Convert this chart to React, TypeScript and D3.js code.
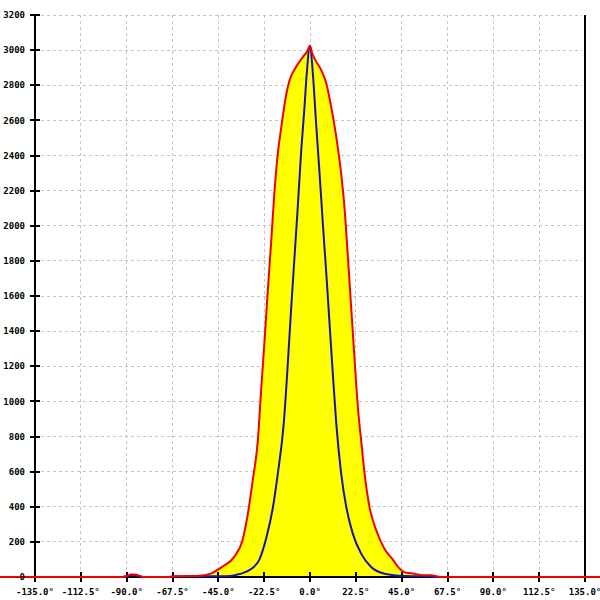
import React from "react";
import * as d3 from "d3";

const xTicks = [-135, -112.5, -90, -67.5, -45, -22.5, 0, 22.5, 45, 67.5, 90, 112.5, 135];
const yTicks = [0, 200, 400, 600, 800, 1000, 1200, 1400, 1600, 1800, 2000, 2200, 2400, 2600, 2800, 3000, 3200];

const redAngles = [-155, -92, -90, -88, -86, -84, -82, -70, -66, -60, -54, -48.4, -43, -37.1, -33.1, -30.5, -28.1, -25.6, -24, -22.3, -20.7, -19, -17.4, -15.8, -14.1, -12.5, -10.9, -9.2, -7.6, -3.5, -1.5, 0, 1, 2.2, 5.5, 8, 10.4, 12.9, 15.3, 16.9, 18.6, 20.2, 21.8, 23.5, 25.1, 26.8, 29.2, 32.5, 36.6, 40.6, 43, 44.8, 47, 51.3, 55, 59.5, 62, 65, 155];
const redValues = [0, 0, 6, 14, 14, 8, 0, 0, 4, 5, 7, 21, 59, 116, 211, 361, 551, 778, 1063, 1348, 1633, 1918, 2203, 2411, 2560, 2690, 2790, 2855, 2890, 2962, 2990, 3025, 2985, 2953, 2886, 2810, 2677, 2506, 2297, 2108, 1823, 1538, 1253, 968, 778, 589, 399, 266, 160, 100, 60, 38, 25, 19, 10, 10, 5, 0, 0];

const blueAngles = [-155, -92, -90, -88, -86, -84, -82, -70, -66, -55, -48, -41, -34.6, -28.9, -24.8, -21.5, -18.3, -15.8, -12.9, -11.2, -9.2, -7.6, -6, -4.3, -2.7, -1.6, 0, 1.4, 3, 4.7, 6.3, 8, 9.6, 11.2, 12.9, 15.3, 17.8, 21, 25.1, 30, 36.6, 46.4, 55, 62, 155];
const blueValues = [0, 0, 4, 10, 10, 5, 0, 0, 3, 4, 4, 4, 17, 45, 100, 220, 390, 589, 873, 1158, 1538, 1823, 2108, 2430, 2677, 2867, 3025, 2867, 2582, 2297, 2013, 1728, 1443, 1158, 873, 589, 399, 247, 133, 57, 19, 6, 4, 0, 0];

const W = 600;
const H = 600;

export default function App() {
  const x = d3.scaleLinear().domain([-135, 135]).range([35, 585]);
  const y = d3.scaleLinear().domain([0, 3200]).range([577, 15]);

  const red: [number, number][] = redAngles.map((a, i) => [a, redValues[i]]);
  const blue: [number, number][] = blueAngles.map((a, i) => [a, blueValues[i]]);

  const line = d3
    .line<[number, number]>()
    .x((d) => x(d[0]))
    .y((d) => y(d[1]))
    .curve(d3.curveMonotoneX);
  const area = d3
    .area<[number, number]>()
    .x((d) => x(d[0]))
    .y0(y(0))
    .y1((d) => y(d[1]))
    .curve(d3.curveMonotoneX);

  const font = "'DejaVu Sans Mono', monospace";

  return (
    <svg
      width={W}
      height={H}
      style={{ position: "absolute", left: 0, top: 0, background: "#fff" }}
    >
      {/* grid */}
      <g stroke="#c4c4c4" strokeWidth={1} strokeDasharray="3,3" shapeRendering="crispEdges">
        {yTicks.map((t) => (
          <line key={"gy" + t} x1={x(-135)} x2={x(135) - 3} y1={y(t)} y2={y(t)} />
        ))}
        {xTicks.map((t) => (
          <line key={"gx" + t} x1={x(t)} x2={x(t)} y1={y(3200)} y2={y(0)} />
        ))}
      </g>
      {/* filled area under red */}
      <path d={area(red) || ""} fill="#ffff00" stroke="none" />
      {/* axes */}
      <g stroke="#000" strokeWidth={2} shapeRendering="crispEdges">
        <line x1={x(-135)} x2={x(-135)} y1={y(3200)} y2={y(0) + 5} />
        <line x1={x(135)} x2={x(135)} y1={y(3200)} y2={y(0) + 5} />
        <line x1={0} x2={W} y1={y(0)} y2={y(0)} />
        {yTicks.map((t) => (
          <line key={"ty" + t} x1={x(-135) - 5} x2={x(-135) + 5} y1={y(t)} y2={y(t)} />
        ))}
        {xTicks.map((t) => (
          <line key={"tx" + t} x1={x(t)} x2={x(t)} y1={y(0) - 5} y2={y(0) + 5} />
        ))}
      </g>
      {/* lines */}
      <path d={line(blue) || ""} fill="none" stroke="#1414b4" strokeWidth={2} />
      <path d={line(red) || ""} fill="none" stroke="#f00000" strokeWidth={2} />
      {/* labels */}
      <g fontFamily={font} fontSize={9} fontWeight="bold" fill="#000">
        {yTicks.map((t) => (
          <text key={"ly" + t} x={25} y={y(t)} dy="0.35em" textAnchor="end">
            {t}
          </text>
        ))}
        {xTicks.map((t) => (
          <text key={"lx" + t} x={x(t)} y={592} dy="0.35em" textAnchor="middle">
            {t.toFixed(1) + "°"}
          </text>
        ))}
      </g>
    </svg>
  );
}
